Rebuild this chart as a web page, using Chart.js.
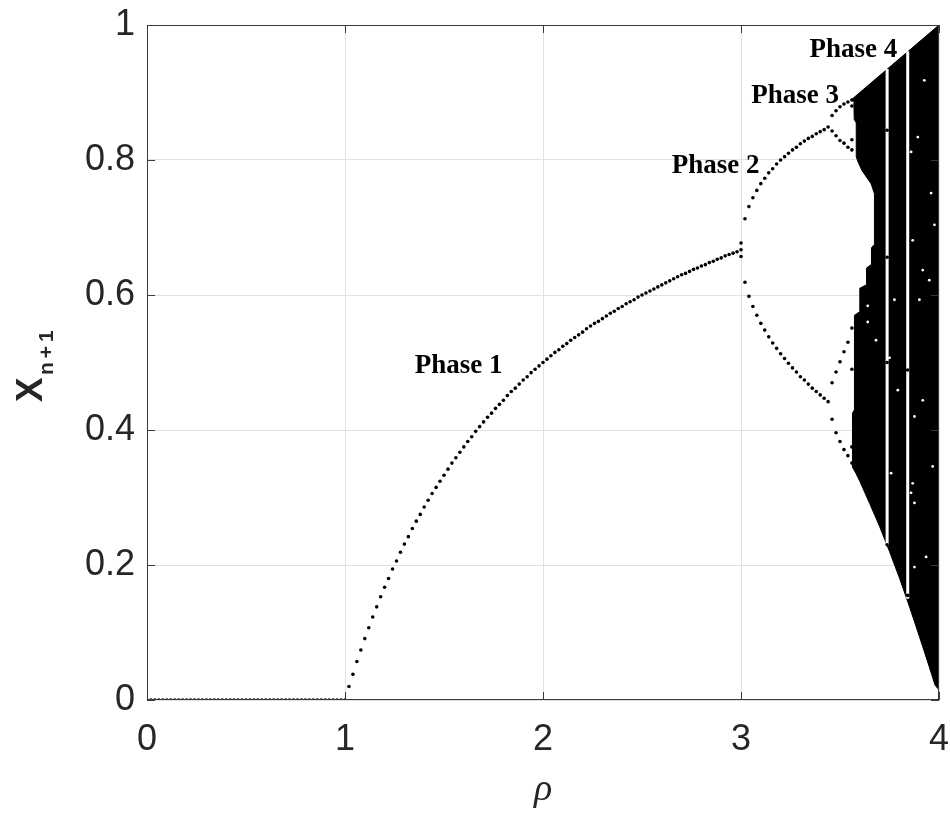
<!DOCTYPE html>
<html>
<head>
<meta charset="utf-8">
<script src="https://cdn.jsdelivr.net/npm/chart.js@4/dist/chart.umd.min.js"></script>
<style>
html,body{margin:0;padding:0;background:#fff;}
canvas{display:block;}
</style>
</head>
<body>
<canvas id="c" width="950" height="813"></canvas>
<script>
// ---------- data ----------
const xTicks = [0, 1, 2, 3, 4];
const yTicks = [0, 0.2, 0.4, 0.6, 0.8, 1];
const xTickLabels = ['0', '1', '2', '3', '4'];
const yTickLabels = ['0', '0.2', '0.4', '0.6', '0.8', '1'];

// stable fixed point (rho 0 .. 3)
const rhoStable = [
0.00,0.02,0.04,0.06,0.08,0.10,0.12,0.14,0.16,0.18,
0.20,0.22,0.24,0.26,0.28,0.30,0.32,0.34,0.36,0.38,
0.40,0.42,0.44,0.46,0.48,0.50,0.52,0.54,0.56,0.58,
0.60,0.62,0.64,0.66,0.68,0.70,0.72,0.74,0.76,0.78,
0.80,0.82,0.84,0.86,0.88,0.90,0.92,0.94,0.96,0.98,
1.00,1.02,1.04,1.06,1.08,1.10,1.12,1.14,1.16,1.18,
1.20,1.22,1.24,1.26,1.28,1.30,1.32,1.34,1.36,1.38,
1.40,1.42,1.44,1.46,1.48,1.50,1.52,1.54,1.56,1.58,
1.60,1.62,1.64,1.66,1.68,1.70,1.72,1.74,1.76,1.78,
1.80,1.82,1.84,1.86,1.88,1.90,1.92,1.94,1.96,1.98,
2.00,2.02,2.04,2.06,2.08,2.10,2.12,2.14,2.16,2.18,
2.20,2.22,2.24,2.26,2.28,2.30,2.32,2.34,2.36,2.38,
2.40,2.42,2.44,2.46,2.48,2.50,2.52,2.54,2.56,2.58,
2.60,2.62,2.64,2.66,2.68,2.70,2.72,2.74,2.76,2.78,
2.80,2.82,2.84,2.86,2.88,2.90,2.92,2.94,2.96,2.98,
3.00];
const xStable = [
0,0,0,0,0,0,0,0,0,0,
0,0,0,0,0,0,0,0,0,0,
0,0,0,0,0,0,0,0,0,0,
0,0,0,0,0,0,0,0,0,0,
0,0,0,0,0,0,0,0,0,0,
0.000,0.020,0.038,0.057,0.074,0.091,0.107,0.123,0.138,0.153,
0.167,0.180,0.194,0.206,0.219,0.231,0.242,0.254,0.265,0.275,
0.286,0.296,0.306,0.315,0.324,0.333,0.342,0.351,0.359,0.367,
0.375,0.383,0.390,0.398,0.405,0.412,0.419,0.425,0.432,0.438,
0.444,0.451,0.457,0.462,0.468,0.474,0.479,0.485,0.490,0.495,
0.500,0.505,0.510,0.515,0.519,0.524,0.528,0.533,0.537,0.541,
0.545,0.550,0.554,0.558,0.561,0.565,0.569,0.573,0.576,0.580,
0.583,0.587,0.590,0.593,0.597,0.600,0.603,0.606,0.609,0.612,
0.615,0.618,0.621,0.624,0.627,0.630,0.632,0.635,0.638,0.640,
0.643,0.645,0.648,0.650,0.653,0.655,0.658,0.660,0.662,0.664,
0.667];
// slow convergence cluster at rho = 3
const rhoCluster = [3.00, 3.00];
const xCluster = [0.677, 0.657];

// period 2 (Phase 2)
const rhoPeriod2 = [3.02,3.04,3.06,3.08,3.10,3.12,3.14,3.16,3.18,3.20,3.22,
                    3.24,3.26,3.28,3.30,3.32,3.34,3.36,3.38,3.40,3.42,3.44];
const xPeriod2Upper = [0.713,0.731,0.744,0.755,0.765,0.773,0.781,0.787,0.794,0.800,0.805,
                       0.810,0.815,0.819,0.824,0.828,0.832,0.835,0.839,0.842,0.845,0.849];
const xPeriod2Lower = [0.619,0.598,0.583,0.570,0.558,0.548,0.538,0.529,0.521,0.513,0.506,
                       0.499,0.492,0.486,0.479,0.474,0.468,0.462,0.457,0.452,0.447,0.442];

// period 4 (Phase 3)
const rhoPeriod4 = [3.46, 3.48, 3.50, 3.52, 3.54];
const xPeriod4A = [0.866, 0.873, 0.879, 0.883, 0.886];
const xPeriod4B = [0.843, 0.836, 0.829, 0.825, 0.819];
const xPeriod4C = [0.470, 0.486, 0.501, 0.516, 0.530];
const xPeriod4D = [0.416, 0.396, 0.383, 0.371, 0.362];
// period 8 just before chaos
const rhoPeriod8 = [3.56,3.56,3.56,3.56,3.56,3.56,3.56,3.56];
const xPeriod8 = [0.889, 0.880, 0.830, 0.815, 0.551, 0.490, 0.375, 0.351];

// chaotic band (Phase 4) outline
const chaosRho = [3.560,4.000,4.000,3.980,3.950,3.900,3.850,3.800,3.750,3.700,3.650,3.600,3.580,3.563,
  3.563,3.573,3.573,3.598,3.600,3.632,3.634,3.657,3.659,3.674,3.674,3.657,3.640,3.610,3.590,3.582,3.582,3.572,3.570];
const chaosX = [0.890,1.000,0.015,0.022,0.050,0.095,0.139,0.181,0.220,0.257,0.291,0.324,0.336,0.345,
  0.425,0.430,0.570,0.575,0.610,0.615,0.640,0.645,0.670,0.675,0.750,0.765,0.772,0.785,0.798,0.805,0.855,0.860,0.885];

// periodic windows inside chaos
const windowRho = [3.738, 3.842];
const windowLow = [0.228, 0.150];
const windowHigh = [0.935, 0.961];
const windowOrbitRho = [3.738, 3.738, 3.738, 3.738, 3.842, 3.842];
const windowOrbitX = [0.844, 0.656, 0.500, 0.230, 0.489, 0.155];

// white specks inside the chaotic band
const speckRho = [3.640,3.640,3.682,3.775,3.792,3.918,3.901,3.977,3.918,3.876,3.968,3.859,3.951,3.750,
  3.867,3.876,3.876,3.935,3.758,3.893,3.960,3.859,3.926,3.867];
const speckX = [0.584,0.560,0.533,0.593,0.459,0.444,0.593,0.704,0.637,0.420,0.346,0.307,0.622,0.507,
  0.321,0.292,0.197,0.212,0.336,0.834,0.751,0.812,0.918,0.681];

// annotations
const phaseLabels = ['Phase 1', 'Phase 2', 'Phase 3', 'Phase 4'];
const phaseLabelRho = [1.352, 2.650, 3.052, 3.346];
const phaseLabelX = [0.484, 0.781, 0.884, 0.953];

// ---------- build ----------
const pts = (xs, ys) => xs.map((r, i) => ({x: r, y: ys[i]}));
const dot = (data, order) => ({
  type: 'scatter', data, order,
  pointRadius: 1.8, pointBackgroundColor: '#000', pointBorderWidth: 0,
  pointHoverRadius: 0, showLine: false
});

const datasets = [];
datasets.push({
  type: 'line', data: pts(chaosRho, chaosX), order: 20,
  showLine: true, fill: 'shape', backgroundColor: '#000', borderColor: '#000',
  borderWidth: 1, pointRadius: 0, tension: 0
});
windowRho.forEach((r, i) => {
  datasets.push({
    type: 'line', data: [{x: r, y: windowLow[i]}, {x: r, y: windowHigh[i]}], order: 15,
    showLine: true, fill: false, borderColor: '#fff', borderWidth: 3, pointRadius: 0
  });
});
datasets.push({
  type: 'scatter', data: pts(speckRho, speckX), order: 14,
  pointRadius: 1.4, pointBackgroundColor: '#fff', pointBorderWidth: 0, showLine: false
});
datasets.push(dot(pts(windowOrbitRho, windowOrbitX), 5));
datasets.push(dot(pts(rhoStable, xStable), 1));
datasets.push(dot(pts(rhoCluster, xCluster), 1));
datasets.push(dot(pts(rhoPeriod2, xPeriod2Upper), 1));
datasets.push(dot(pts(rhoPeriod2, xPeriod2Lower), 1));
datasets.push(dot(pts(rhoPeriod4, xPeriod4A), 1));
datasets.push(dot(pts(rhoPeriod4, xPeriod4B), 1));
datasets.push(dot(pts(rhoPeriod4, xPeriod4C), 1));
datasets.push(dot(pts(rhoPeriod4, xPeriod4D), 1));
datasets.push(dot(pts(rhoPeriod8, xPeriod8), 1));

const AXIS_COLOR = '#262626';
const decor = {
  id: 'decor',
  beforeDraw(chart) {
    const ctx = chart.ctx;
    ctx.save();
    ctx.fillStyle = '#fff';
    ctx.fillRect(0, 0, chart.width, chart.height);
    ctx.restore();
  },
  afterDraw(chart) {
    const ctx = chart.ctx;
    const a = chart.chartArea;
    const xs = chart.scales.x, ys = chart.scales.y;
    ctx.save();
    // box
    ctx.strokeStyle = '#3a3a3a';
    ctx.lineWidth = 1;
    ctx.strokeRect(a.left + 0.5, a.top + 0.5, a.right - a.left - 1, a.bottom - a.top - 1);
    // inner ticks
    const tl = 8;
    ctx.beginPath();
    xTicks.forEach(v => {
      const px = Math.round(xs.getPixelForValue(v)) + 0.5;
      ctx.moveTo(px, a.bottom); ctx.lineTo(px, a.bottom - tl);
      ctx.moveTo(px, a.top); ctx.lineTo(px, a.top + tl);
    });
    yTicks.forEach(v => {
      const py = Math.round(ys.getPixelForValue(v)) + 0.5;
      ctx.moveTo(a.left, py); ctx.lineTo(a.left + tl, py);
      ctx.moveTo(a.right, py); ctx.lineTo(a.right - tl, py);
    });
    ctx.stroke();
    // phase labels
    ctx.fillStyle = '#000';
    ctx.font = 'bold 27px "Liberation Serif", "Times New Roman", serif';
    ctx.textAlign = 'left';
    ctx.textBaseline = 'alphabetic';
    phaseLabels.forEach((t, i) => {
      ctx.fillText(t, xs.getPixelForValue(phaseLabelRho[i]), ys.getPixelForValue(phaseLabelX[i]));
    });
    // x axis title (rho)
    ctx.fillStyle = AXIS_COLOR;
    ctx.font = 'italic 38px "Liberation Serif", "Times New Roman", serif';
    ctx.textAlign = 'center';
    ctx.fillText('\u03C1', (a.left + a.right) / 2, 800);
    // y axis title x_{n+1}
    ctx.translate(42, 402);
    ctx.rotate(-Math.PI / 2);
    ctx.textAlign = 'left';
    ctx.font = 'bold 37px "Liberation Sans", Arial, sans-serif';
    ctx.fillText('X', 0, 0);
    ctx.font = 'bold 21px "Liberation Sans", Arial, sans-serif';
    try { ctx.letterSpacing = '4px'; } catch (e) {}
    ctx.fillText('n+1', 27, 11);
    ctx.restore();
  }
};

new Chart(document.getElementById('c'), {
  type: 'scatter',
  data: { datasets },
  plugins: [decor],
  options: {
    responsive: false,
    animation: false,
    events: [],
    layout: { padding: { left: 0, right: 11, top: 25, bottom: 0 } },
    plugins: { legend: { display: false }, tooltip: { enabled: false } },
    scales: {
      x: {
        type: 'linear', min: 0, max: 4,
        afterBuildTicks: s => { s.ticks = xTicks.map(v => ({value: v})); },
        afterFit: s => { s.height = 113; s.paddingLeft = 0; s.paddingRight = 0; },
        grid: { color: '#e1e1e1', drawTicks: false, lineWidth: 1 },
        border: { display: false },
        ticks: { color: AXIS_COLOR, padding: 18, maxRotation: 0,
                 callback: (v) => xTickLabels[xTicks.indexOf(v)] ?? '',
                 font: { family: '"Liberation Sans", Arial, sans-serif', size: 36 } }
      },
      y: {
        type: 'linear', min: 0, max: 1,
        afterBuildTicks: s => { s.ticks = yTicks.map(v => ({value: v})); },
        afterFit: s => { s.width = 147; s.paddingTop = 0; s.paddingBottom = 0; },
        grid: { color: '#e1e1e1', drawTicks: false, lineWidth: 1 },
        border: { display: false },
        ticks: { color: AXIS_COLOR, padding: 12,
                 callback: (v) => { const i = yTicks.findIndex(t => Math.abs(t - v) < 1e-9); return i >= 0 ? yTickLabels[i] : ''; },
                 font: { family: '"Liberation Sans", Arial, sans-serif', size: 36 } }
      }
    }
  }
});
</script>
</body>
</html>
